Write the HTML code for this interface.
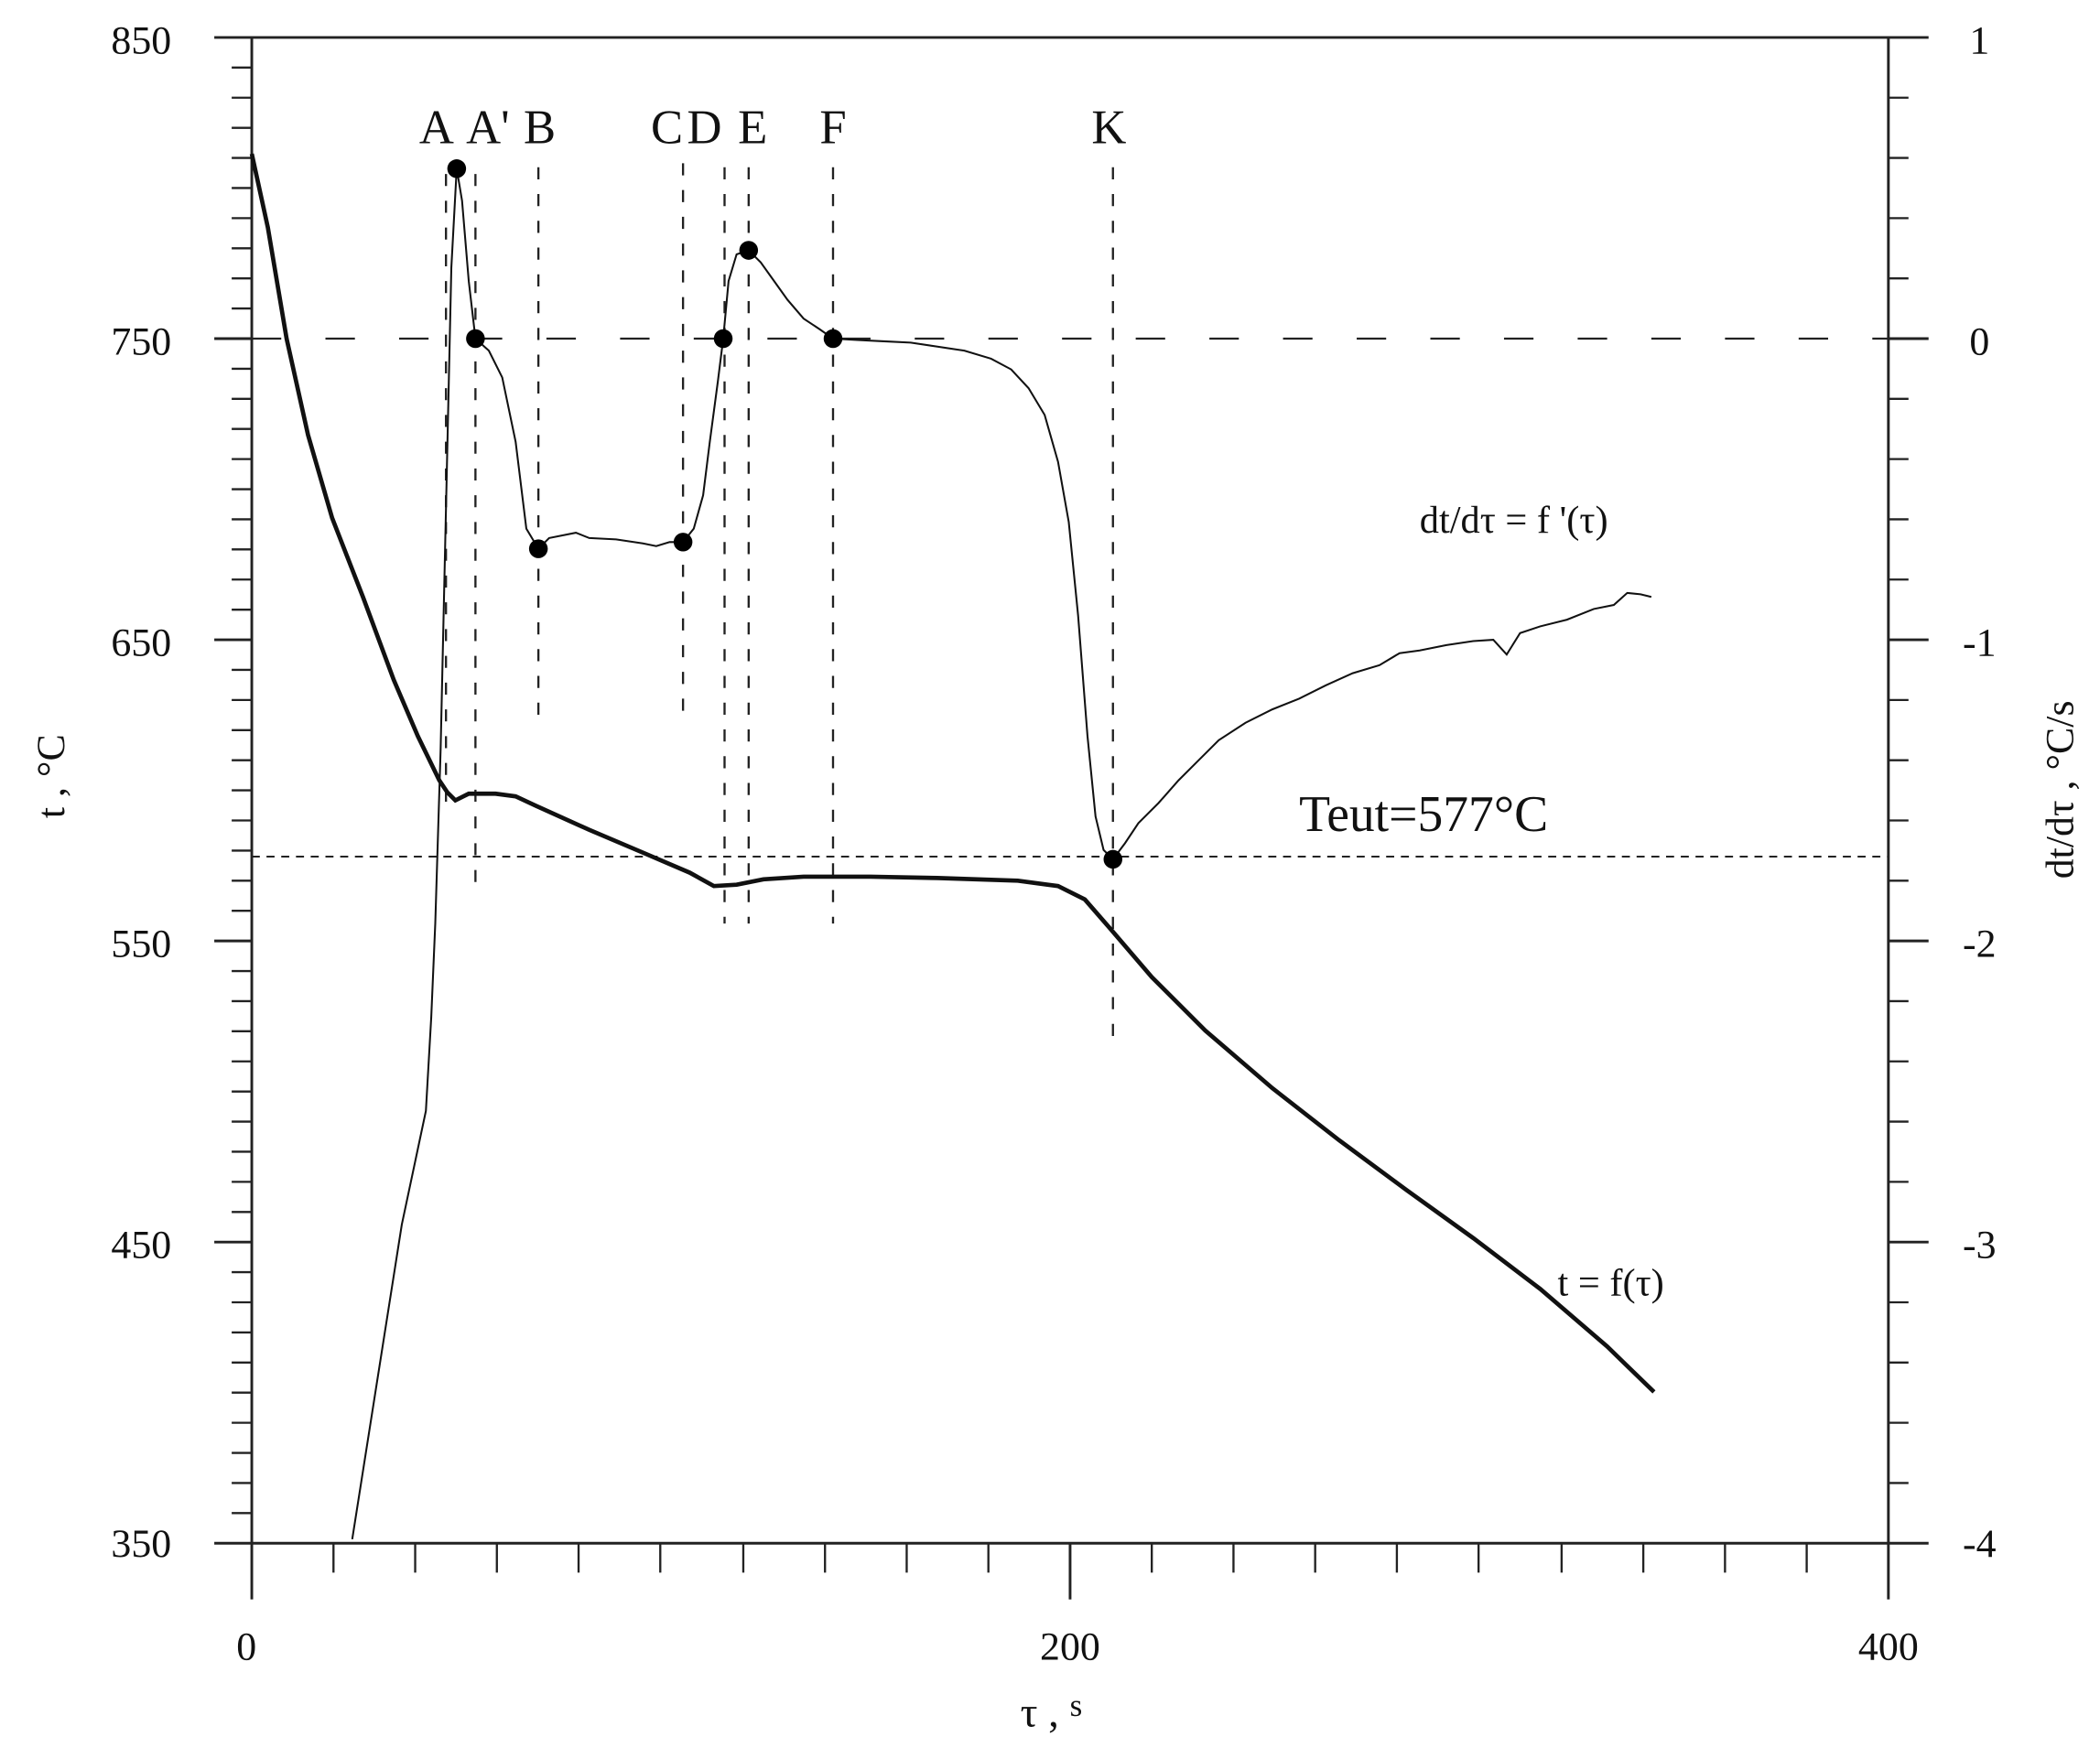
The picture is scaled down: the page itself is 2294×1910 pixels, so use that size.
<!DOCTYPE html>
<html><head><meta charset="utf-8"><style>
html,body{margin:0;padding:0;background:#fff;}
svg{display:block;}
text{font-family:"Liberation Serif",serif;fill:#111;}
</style></head><body>
<svg width="2294" height="1910" viewBox="0 0 1568 1306" preserveAspectRatio="none" xmlns="http://www.w3.org/2000/svg">
<g stroke="#222" stroke-width="2" fill="none">
<line x1="160" y1="28" x2="1440" y2="28"/>
<line x1="160" y1="1153" x2="1440" y2="1153"/>
<line x1="188" y1="28" x2="188" y2="1195"/>
<line x1="1410" y1="28" x2="1410" y2="1195"/>
<line x1="799" y1="1153" x2="799" y2="1195"/>
<line x1="160" y1="253" x2="188" y2="253"/><line x1="160" y1="478" x2="188" y2="478"/>
<line x1="160" y1="703" x2="188" y2="703"/><line x1="160" y1="928" x2="188" y2="928"/>
<line x1="1410" y1="253" x2="1440" y2="253"/><line x1="1410" y1="478" x2="1440" y2="478"/>
<line x1="1410" y1="703" x2="1440" y2="703"/><line x1="1410" y1="928" x2="1440" y2="928"/>
</g>
<g stroke="#222" stroke-width="1.6">
<path d="M173 50.5H188M173 73H188M173 95.5H188M173 118H188M173 140.5H188M173 163H188M173 185.5H188M173 208H188M173 230.5H188
M173 275.5H188M173 298H188M173 320.5H188M173 343H188M173 365.5H188M173 388H188M173 410.5H188M173 433H188M173 455.5H188
M173 500.5H188M173 523H188M173 545.5H188M173 568H188M173 590.5H188M173 613H188M173 635.5H188M173 658H188M173 680.5H188
M173 725.5H188M173 748H188M173 770.5H188M173 793H188M173 815.5H188M173 838H188M173 860.5H188M173 883H188M173 905.5H188
M173 950.5H188M173 973H188M173 995.5H188M173 1018H188M173 1040.5H188M173 1063H188M173 1085.5H188M173 1108H188M173 1130.5H188"/>
<path d="M1410 73H1425M1410 118H1425M1410 163H1425M1410 208H1425M1410 298H1425M1410 343H1425M1410 388H1425M1410 433H1425
M1410 523H1425M1410 568H1425M1410 613H1425M1410 658H1425M1410 748H1425M1410 793H1425M1410 838H1425M1410 883H1425
M1410 973H1425M1410 1018H1425M1410 1063H1425M1410 1108H1425"/>
<path d="M249 1153V1175M310 1153V1175M371 1153V1175M432 1153V1175M493 1153V1175M555 1153V1175M616 1153V1175M677 1153V1175M738 1153V1175
M860 1153V1175M921 1153V1175M982 1153V1175M1043 1153V1175M1104 1153V1175M1166 1153V1175M1227 1153V1175M1288 1153V1175M1349 1153V1175"/>
</g>
<line x1="188" y1="253" x2="1410" y2="253" stroke="#222" stroke-width="1.6" stroke-dasharray="22,33"/>
<line x1="188" y1="640" x2="1410" y2="640" stroke="#222" stroke-width="1.4" stroke-dasharray="6,5"/>
<g stroke="#222" stroke-width="1.6" stroke-dasharray="9,11">
<line x1="333" y1="130" x2="333" y2="600"/>
<line x1="355" y1="130" x2="355" y2="660"/>
<line x1="402" y1="125" x2="402" y2="540"/>
<line x1="510" y1="122" x2="510" y2="535"/>
<line x1="541" y1="125" x2="541" y2="690"/>
<line x1="559" y1="125" x2="559" y2="690"/>
<line x1="622" y1="125" x2="622" y2="690"/>
<line x1="831" y1="125" x2="831" y2="775"/>
</g>
<path fill="none" stroke="#111" stroke-width="1.4" d="M263 1150 L300 915 L318 830 L322 760 L325 690 L329 560 L333 380 L337 200 L341 126 L345 150 L350 210 L355 253 L365 262 L375 282 L385 330 L393 395 L402 410 L410 402 L420 400 L430 398 L440 402 L460 403 L480 406 L490 408 L500 405 L510 405 L518 395 L525 370 L530 330 L536 285 L540 253 L544 210 L550 190 L559 187 L568 196 L578 210 L588 224 L600 238 L612 246 L622 253 L640 254 L660 255 L680 256 L700 259 L720 262 L740 268 L755 276 L768 290 L780 310 L790 345 L798 390 L805 460 L812 550 L818 610 L824 635 L831 642 L840 630 L850 615 L865 600 L880 583 L895 568 L910 553 L930 540 L950 530 L970 522 L990 512 L1010 503 L1030 497 L1045 488 L1060 486 L1080 482 L1100 479 L1115 478 L1125 489 L1135 473 L1150 468 L1170 463 L1190 455 L1205 452 L1215 443 L1225 444 L1233 446"/>
<path fill="none" stroke="#111" stroke-width="3.2" d="M188 115 L200 170 L214 253 L230 325 L248 387 L271 446 L294 508 L312 550 L328 583 L334 592 L340 598 L350 593 L370 593 L385 595 L400 602 L440 620 L480 637 L515 652 L533 662 L550 661 L570 657 L600 655 L650 655 L700 656 L760 658 L790 662 L810 672 L830 695 L860 730 L900 770 L950 813 L1000 852 L1050 889 L1100 925 L1150 963 L1200 1006 L1235 1040"/>
<g fill="#000">
<circle cx="341" cy="126" r="7"/><circle cx="355" cy="253" r="7"/><circle cx="402" cy="410" r="7"/>
<circle cx="510" cy="405" r="7"/><circle cx="540" cy="253" r="7"/><circle cx="559" cy="187" r="7"/>
<circle cx="622" cy="253" r="7"/><circle cx="831" cy="642" r="7"/>
</g>
<g font-size="36">
<text x="313" y="107">A</text><text x="348" y="107">A'</text><text x="391" y="107">B</text>
<text x="486" y="107">C</text><text x="513" y="107">D</text><text x="551" y="107">E</text>
<text x="612" y="107">F</text><text x="815" y="107">K</text>
<text x="970" y="621" font-size="38">Teut=577°C</text>
</g>
<text x="1060" y="398" font-size="29">dt/dτ = f '(τ)</text>
<text x="1163" y="968" font-size="29">t = f(τ)</text>
<g font-size="30" text-anchor="end">
<text x="128" y="40">850</text><text x="128" y="265">750</text><text x="128" y="490">650</text>
<text x="128" y="715">550</text><text x="128" y="940">450</text><text x="128" y="1163">350</text>
</g>
<g font-size="30" text-anchor="middle">
<text x="1478" y="40">1</text><text x="1478" y="265">0</text><text x="1478" y="490">-1</text>
<text x="1478" y="715">-2</text><text x="1478" y="940">-3</text><text x="1478" y="1163">-4</text>
<text x="184" y="1240">0</text><text x="799" y="1240">200</text><text x="1410" y="1240">400</text>
</g>
<text x="785" y="1290" font-size="32" text-anchor="middle">τ , <tspan font-size="24" dy="-8">s</tspan></text>
<text transform="translate(48,580) rotate(-90)" font-size="30" text-anchor="middle">t , °C</text>
<text transform="translate(1548,590) rotate(-90)" font-size="30" text-anchor="middle">dt/dτ , °C/s</text>
</svg>
</body></html>
